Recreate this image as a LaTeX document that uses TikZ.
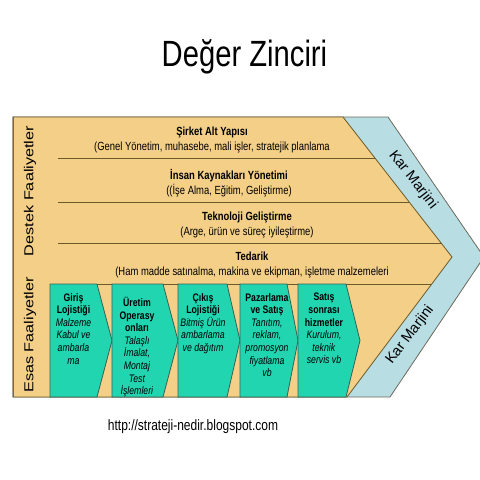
\documentclass[tikz,border=0pt]{standalone}
\usepackage{fontspec}
\setmainfont{Liberation Sans}[FakeStretch=0.8]
\newfontfamily\sidefont{Liberation Sans}[FakeStretch=1.25]
\newfontfamily\marginfont{Liberation Sans}
\definecolor{tanfill}{HTML}{F3CF88}
\definecolor{marginblue}{HTML}{B8DDE3}
\definecolor{tealfill}{HTML}{22D5B1}
\definecolor{outeredge}{HTML}{6A6A5C}
\definecolor{rowedge}{HTML}{6B5A2A}
\definecolor{boxedge}{HTML}{3E5E52}
\tikzset{
	primarybox/.style={fill=tealfill, draw=boxedge, line width=0.8pt},
	rowline/.style={draw=rowedge, line width=0.9pt},
	supporttext/.style={align=center, inner sep=0pt, font=\fontsize{11.8}{15}\selectfont},
	primarytext/.style={align=center, anchor=north, inner sep=0pt, font=\fontsize{10.9}{12.6}\selectfont},
	sidelabel/.style={rotate=90, inner sep=0pt, font=\sidefont\fontsize{13}{13}\selectfont},
	marginlabel/.style={inner sep=0pt, font=\marginfont\fontsize{14.5}{14.5}\selectfont},
}
\begin{document}
\begin{tikzpicture}[x=1pt, y=-1pt]
	\useasboundingbox (0,0) rectangle (480,480);
	\fill[white] (0,0) rectangle (480,480);
	% kar marjini band and activity area
	\draw[fill=marginblue, draw=outeredge, line width=0.8pt] (13,117) -- (388,117) -- (484,257) -- (390,397) -- (13,397) -- cycle;
	\draw[fill=tanfill, draw=rowedge, line width=0.8pt] (13,117) -- (343,117) -- (452,257) -- (347,397) -- (13,397) -- cycle;
	\draw[outeredge, line width=0.8pt] (13,117) -- (13,397);
	% support rows
	\draw[rowline] (58,158) -- (375,158);
	\draw[rowline] (58,202) -- (409,202);
	\draw[rowline] (58,243) -- (441,243);
	\draw[rowline] (50,284) -- (432,284);
	% primary activities
	\foreach \l/\r/\t in {50/97/112, 112/163/178, 178/227/240, 240/287/298, 298/346/360}{
		\draw[primarybox] (\l,284) -- (\r,284) -- (\t,340.5) -- (\r,397) -- (\l,397) -- cycle;
	}
	\node (title) at (244.5,66) [anchor=base, inner sep=0pt, font=\fontsize{36.5}{36.5}\selectfont] {Değer Zinciri};
	\node (destek) at (30,191) [sidelabel] {Destek Faaliyetler};
	\node (esas) at (30,335) [sidelabel] {Esas Faaliyetler};
	\node (sirket) at (212,140) [supporttext] {\textbf{Şirket Alt Yapısı}\\(Genel Yönetim, muhasebe, mali işler, stratejik planlama};
	\node (insan) at (229,183.5) [supporttext] {\textbf{İnsan Kaynakları Yönetimi}\\((İşe Alma, Eğitim, Geliştirme)};
	\node (teknoloji) at (247,224.5) [supporttext] {\textbf{Teknoloji Geliştirme}\\(Arge, ürün ve süreç iyileştirme)};
	\node (tedarik) at (252,265) [supporttext] {\textbf{Tedarik}\\(Ham madde satınalma, makina ve ekipman, işletme malzemeleri};
	\node (giris) at (73.5,293) [primarytext] {\textbf{Giriş}\\\textbf{Lojistiği}\\\textit{Malzeme}\\\textit{Kabul ve}\\\textit{ambarla}\\\textit{ma}};
	\node (uretim) at (137,297) [primarytext] {\textbf{Üretim}\\\textbf{Operasy}\\\textbf{onları}\\\textit{Talaşlı}\\\textit{İmalat,}\\\textit{Montaj}\\\textit{Test}\\\textit{İşlemleri}};
	\node (cikis) at (203,293) [primarytext] {\textbf{Çıkış}\\\textbf{Lojistiği}\\\textit{Bitmiş Ürün}\\\textit{ambarlama}\\\textit{ve dağıtım}};
	\node (pazarlama) at (267,293) [primarytext] {\textbf{Pazarlama}\\\textbf{ve Satış}\\\textit{Tanıtım,}\\\textit{reklam,}\\\textit{promosyon}\\\textit{fiyatlama}\\\textit{vb}};
	\node (satis) at (324,293) [primarytext] {\textbf{Satış}\\\textbf{sonrası}\\\textbf{hizmetler}\\\textit{Kurulum,}\\\textit{teknik}\\\textit{servis vb}};
	\node (marjinust) at (413,180) [marginlabel, rotate=-52] {Kar Marjini};
	\node (marjinalt) at (410,335) [marginlabel, rotate=53] {Kar Marjini};
	\node (url) at (193,430) [anchor=base, inner sep=0pt, font=\fontsize{15}{15}\selectfont] {http://strateji-nedir.blogspot.com};
\end{tikzpicture}
\end{document}
